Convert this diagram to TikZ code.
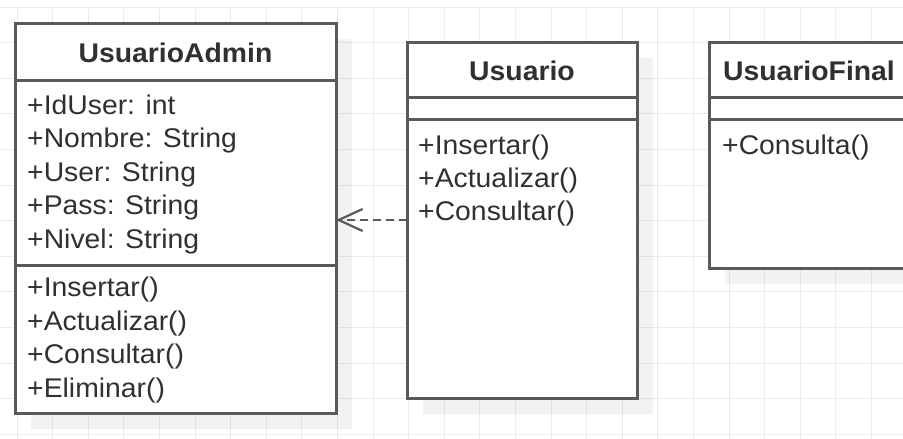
\documentclass[tikz,border=0pt]{standalone}
\usepackage{fontspec}
\setmainfont[FakeStretch=1.05]{Liberation Sans}
\usetikzlibrary{arrows.meta,shadows,calc}
\definecolor{bordc}{HTML}{5A5A5A}
\definecolor{gridc}{HTML}{EBEBEB}
\definecolor{txtc}{HTML}{303030}

\begin{document}
\begin{tikzpicture}[x=1pt,y=-1pt,
  classbox/.style={draw=bordc, line width=3pt, fill=white, rectangle,
    inner sep=0pt, outer sep=0pt, anchor=north west,
    drop shadow={shadow xshift=16pt, shadow yshift=-16pt, fill=black, opacity=0.05}},
  classtitle/.style={anchor=base, font=\fontsize{27}{32}\selectfont\bfseries, text=txtc, inner sep=0pt},
  member/.style={anchor=base west, font=\fontsize{27}{32}\selectfont, text=txtc, inner sep=0pt},
  sepline/.style={draw=bordc, line width=3pt},
  dep/.style={draw=bordc, line width=2.5pt, dash pattern=on 8pt off 5pt,
    -{Straight Barb[length=24pt,width=22pt,line width=2.2pt]}}
]
\fill[white] (0,0) rectangle (903,439);
\useasboundingbox (0,0) rectangle (903,439);

% background grid
\foreach \gx in {0,...,25}
  \draw[gridc, line width=1pt] (17+35.6*\gx,7) -- (17+35.6*\gx,439);
\foreach \gy in {0,...,12}
  \draw[gridc, line width=1pt] (0,7+35.6*\gy) -- (903,7+35.6*\gy);

% class boxes
\node[classbox, minimum width=321pt, minimum height=390pt] (admin) at (15,23) {};
\node[classbox, minimum width=230pt, minimum height=356pt] (usuario) at (407,42) {};
\node[classbox, minimum width=200pt, minimum height=226pt] (final) at (709,42) {};

% compartment separators
\draw[sepline] ($(admin.north west)+(0,57)$) -- ($(admin.north east)+(0,57)$);
\draw[sepline] ($(admin.north west)+(0,242)$) -- ($(admin.north east)+(0,242)$);
\draw[sepline] ($(usuario.north west)+(0,55)$) -- ($(usuario.north east)+(0,55)$);
\draw[sepline] ($(usuario.north west)+(0,77)$) -- ($(usuario.north east)+(0,77)$);
\draw[sepline] ($(final.north west)+(0,55)$) -- ($(final.north east)+(0,55)$);
\draw[sepline] ($(final.north west)+(0,77)$) -- ($(final.north east)+(0,77)$);

% UsuarioAdmin
\node[classtitle] (adminT) at (175.5,62) {UsuarioAdmin};
\node[member] (a1) at (27,114) {+IdUser: int};
\node[member] (a2) at (27,147.5) {+Nombre: String};
\node[member] (a3) at (27,181) {+User: String};
\node[member] (a4) at (27,214.5) {+Pass: String};
\node[member] (a5) at (27,248) {+Nivel: String};
\node[member] (m1) at (27,296.5) {+Insertar()};
\node[member] (m2) at (27,330) {+Actualizar()};
\node[member] (m3) at (27,363.5) {+Consultar()};
\node[member] (m4) at (27,397) {+Eliminar()};

% Usuario
\node[classtitle] (usuarioT) at (522,80) {Usuario};
\node[member] (u1) at (418,154) {+Insertar()};
\node[member] (u2) at (418,187) {+Actualizar()};
\node[member] (u3) at (418,220) {+Consultar()};

% UsuarioFinal
\node[classtitle] (finalT) at (809,80) {UsuarioFinal};
\node[member] (f1) at (722,154) {+Consulta()};

% dependency
\draw[dep] (usuario.west) -- (usuario.west -| admin.east);
\end{tikzpicture}
\end{document}
